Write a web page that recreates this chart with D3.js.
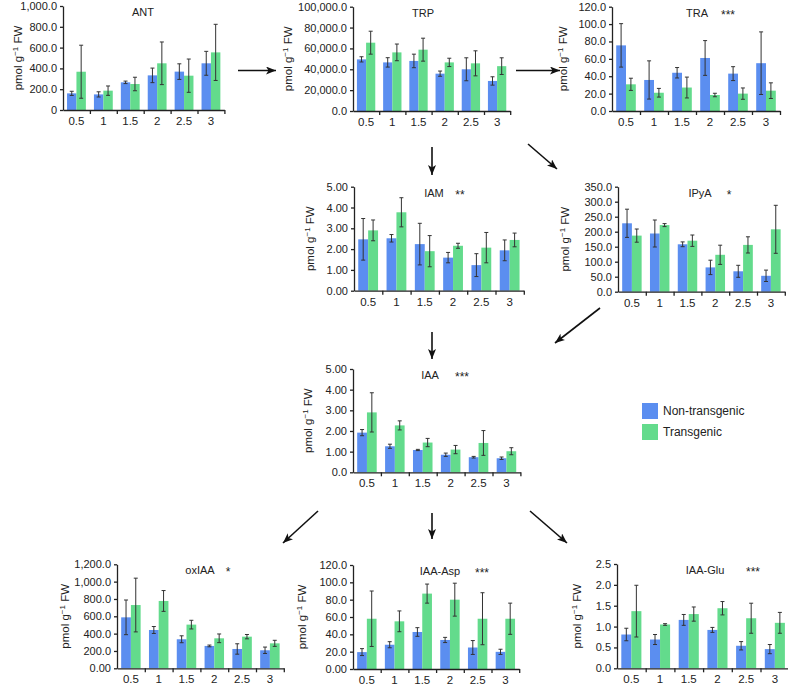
<!DOCTYPE html>
<html>
<head>
<meta charset="utf-8">
<script src="https://cdn.jsdelivr.net/npm/d3@7"></script>
<style>
	body { margin: 0; background: #fff; }
	text { font-family: "Liberation Sans", Arial, Helvetica, sans-serif; fill: #222; }
</style>
</head>
<body>
<div id="res"></div>
<script>
/*
Auxin metabolite panels, non-transgenic vs transgenic, drawn with D3
*/

/* x categories shared by all panels */
var cats = ["0.5", "1", "1.5", "2", "2.5", "3"];

/* ANT */
var antNT = [160, 150, 266, 333, 369, 449];
var antNTerr = [20, 25, 12, 70, 75, 115];
var antT = [368, 186, 250, 449, 330, 554];
var antTerr = [255, 45, 65, 205, 160, 270];
var antTicks = [0, 200, 400, 600, 800, 1000];
var antTickLabels = ["0", "200.0", "400.0", "600.0", "800.0", "1,000.0"];

/* TRP */
var trpNT = [49500, 46600, 48000, 35800, 40000, 28800];
var trpNTerr = [2500, 4500, 6500, 2500, 11000, 4000];
var trpT = [65500, 56200, 58800, 46600, 45700, 43000];
var trpTerr = [11000, 8000, 11000, 4000, 12000, 8000];
var trpTicks = [0, 20000, 40000, 60000, 80000, 100000];
var trpTickLabels = ["0.0", "20,000.0", "40,000.0", "60,000.0", "80,000.0", "100,000.0"];

/* TRA */
var traNT = [75.5, 35.7, 44, 61, 43, 55];
var traNTerr = [25, 22, 6, 20, 8, 36];
var traT = [30.7, 21, 27, 18.4, 20, 23.4];
var traTerr = [7, 5, 12, 2, 6.5, 9];
var traTicks = [0, 20, 40, 60, 80, 100, 120];
var traTickLabels = ["0.0", "20.0", "40.0", "60.0", "80.0", "100.0", "120.0"];

/* IAM */
var iamNT = [2.47, 2.52, 2.24, 1.59, 1.23, 1.94];
var iamNTerr = [1.0, 0.18, 1.0, 0.25, 0.55, 0.5];
var iamT = [2.9, 3.77, 1.9, 2.16, 2.07, 2.44];
var iamTerr = [0.5, 0.7, 0.75, 0.12, 0.73, 0.33];
var iamTicks = [0, 1, 2, 3, 4, 5];
var iamTickLabels = ["0.00", "1.00", "2.00", "3.00", "4.00", "5.00"];

/* IPyA */
var ipyaNT = [228, 194, 158, 81, 68, 53];
var ipyaNTerr = [47, 45, 8, 24, 20, 19];
var ipyaT = [187, 222, 170, 123, 156, 208];
var ipyaTerr = [22, 5, 19, 32, 27, 80];
var ipyaTicks = [0, 50, 100, 150, 200, 250, 300, 350];
var ipyaTickLabels = ["0.0", "50.0", "100.0", "150.0", "200.0", "250.0", "300.0", "350.0"];

/* IAA */
var iaaNT = [1.92, 1.26, 1.08, 0.85, 0.73, 0.68];
var iaaNTerr = [0.15, 0.1, 0.03, 0.08, 0.04, 0.06];
var iaaT = [2.9, 2.27, 1.44, 1.1, 1.42, 1.02];
var iaaTerr = [0.95, 0.22, 0.2, 0.2, 0.6, 0.17];
var iaaTicks = [0, 1, 2, 3, 4, 5];
var iaaTickLabels = ["0.0", "1.00", "2.00", "3.00", "4.00", "5.00"];

/* oxIAA */
var oxNT = [588, 442, 335, 258, 223, 208];
var oxNTerr = [200, 40, 40, 10, 60, 37];
var oxT = [730, 777, 504, 346, 365, 288];
var oxTerr = [310, 120, 50, 50, 25, 35];
var oxTicks = [0, 200, 400, 600, 800, 1000, 1200];
var oxTickLabels = ["0.00", "200.0", "400.0", "600.0", "800.0", "1,000.0", "1,200.0"];

/* IAA-Asp */
var aspNT = [19.5, 28, 42.7, 33.5, 24.8, 19.8];
var aspNTerr = [4, 3.5, 5, 3, 8, 3];
var aspT = [58, 55, 87, 80, 58, 58];
var aspTerr = [32, 12, 11, 19, 30, 18];
var aspTicks = [0, 20, 40, 60, 80, 100, 120];
var aspTickLabels = ["0.00", "20.0", "40.0", "60.0", "80.0", "100.0", "120.0"];

/* IAA-Glu */
var gluNT = [0.81, 0.69, 1.16, 0.92, 0.54, 0.46];
var gluNTerr = [0.15, 0.12, 0.13, 0.06, 0.1, 0.11];
var gluT = [1.37, 1.05, 1.3, 1.44, 1.2, 1.09];
var gluTerr = [0.62, 0.02, 0.17, 0.16, 0.36, 0.25];
var gluTicks = [0, 0.5, 1, 1.5, 2, 2.5];
var gluTickLabels = ["0.0", "0.5", "1.0", "1.5", "2.0", "2.5"];

var seriesNames = ["Non-transgenic", "Transgenic"];

/* colours */
var blue = "#5b8ef0";
var green = "#63db8c";

/* size of the graphic */
var width = 788;
var height = 686;

var svg = d3.select("#res")
	.append("svg")
		.attr("width", width)
		.attr("height", height);

/* panel layout: ax = y axis x, step = category width, y0/y1 = pixel of 0 and of top tick,
   lx = y label x, tx = title x, sx = stars x */
var panels = [
	{ title: "ANT", stars: "", nt: antNT, ntErr: antNTerr, t: antT, tErr: antTerr, ticks: antTicks, labels: antTickLabels,
	  ax: 63, step: 26.9, y0: 110, y1: 6, lx: 18, tx: 143, sx: 0 },
	{ title: "TRP", stars: "", nt: trpNT, ntErr: trpNTerr, t: trpT, tErr: trpTerr, ticks: trpTicks, labels: trpTickLabels,
	  ax: 353, step: 26.2, y0: 111, y1: 6.7, lx: 288, tx: 423, sx: 0 },
	{ title: "TRA", stars: "***", nt: traNT, ntErr: traNTerr, t: traT, tErr: traTerr, ticks: traTicks, labels: traTickLabels,
	  ax: 612, step: 28, y0: 111, y1: 6.7, lx: 563, tx: 697, sx: 728 },
	{ title: "IAM", stars: "**", nt: iamNT, ntErr: iamNTerr, t: iamT, tErr: iamTerr, ticks: iamTicks, labels: iamTickLabels,
	  ax: 354, step: 28.3, y0: 290.7, y1: 186.7, lx: 310, tx: 434, sx: 460 },
	{ title: "IPyA", stars: "*", nt: ipyaNT, ntErr: ipyaNTerr, t: ipyaT, tErr: ipyaTerr, ticks: ipyaTicks, labels: ipyaTickLabels,
	  ax: 618, step: 27.8, y0: 291.7, y1: 186.7, lx: 565, tx: 700, sx: 729 },
	{ title: "IAA", stars: "***", nt: iaaNT, ntErr: iaaNTerr, t: iaaT, tErr: iaaTerr, ticks: iaaTicks, labels: iaaTickLabels,
	  ax: 353, step: 27.9, y0: 472.3, y1: 369, lx: 308, tx: 430, sx: 462 },
	{ title: "oxIAA", stars: "*", nt: oxNT, ntErr: oxNTerr, t: oxT, tErr: oxTerr, ticks: oxTicks, labels: oxTickLabels,
	  ax: 117, step: 27.8, y0: 668.3, y1: 564.3, lx: 65, tx: 200, sx: 228 },
	{ title: "IAA-Asp", stars: "***", nt: aspNT, ntErr: aspNTerr, t: aspT, tErr: aspTerr, ticks: aspTicks, labels: aspTickLabels,
	  ax: 353, step: 27.7, y0: 669, y1: 565, lx: 302, tx: 440, sx: 482 },
	{ title: "IAA-Glu", stars: "***", nt: gluNT, ntErr: gluNTerr, t: gluT, tErr: gluTerr, ticks: gluTicks, labels: gluTickLabels,
	  ax: 617, step: 28.7, y0: 668.3, y1: 564, lx: 577, tx: 705, sx: 753 }
];

function drawPanel(p) {
	var g = svg.append("g");

	/* scales */
	var x = d3.scaleBand()
		.domain(cats)
		.range([p.ax, p.ax + p.step * cats.length])
		.paddingInner(0.3)
		.paddingOuter(0.15);
	var xs = d3.scaleBand()
		.domain(seriesNames)
		.range([0, x.bandwidth()]);
	var y = d3.scaleLinear()
		.domain([0, d3.max(p.ticks)])
		.range([p.y0, p.y1]);

	var series = [
		{ name: seriesNames[0], vals: p.nt, errs: p.ntErr, color: blue },
		{ name: seriesNames[1], vals: p.t, errs: p.tErr, color: green }
	];

	/* bars */
	series.forEach(function(s) {
		g.selectAll(null)
			.data(cats)
			.enter().append("rect")
				.attr("x", function(c) { return x(c) + xs(s.name); })
				.attr("y", function(c, i) { return y(s.vals[i]); })
				.attr("width", xs.bandwidth())
				.attr("height", function(c, i) { return y(0) - y(s.vals[i]); })
				.attr("fill", s.color);
	});

	/* error bars */
	series.forEach(function(s) {
		var cx = function(c) { return x(c) + xs(s.name) + xs.bandwidth() / 2; };
		var eb = g.selectAll(null)
			.data(cats)
			.enter().append("g")
				.attr("stroke", "#333")
				.attr("stroke-width", 1);
		eb.append("line")
			.attr("x1", cx)
			.attr("x2", cx)
			.attr("y1", function(c, i) { return y(Math.max(0, s.vals[i] - s.errs[i])); })
			.attr("y2", function(c, i) { return y(s.vals[i] + s.errs[i]); });
		[1, -1].forEach(function(sign) {
			eb.append("line")
				.attr("x1", function(c) { return cx(c) - 2; })
				.attr("x2", function(c) { return cx(c) + 2; })
				.attr("y1", function(c, i) { return y(Math.max(0, s.vals[i] + sign * s.errs[i])); })
				.attr("y2", function(c, i) { return y(Math.max(0, s.vals[i] + sign * s.errs[i])); });
		});
	});

	/* y axis */
	var ya = g.append("g")
		.attr("transform", "translate(" + p.ax + ",0)")
		.call(d3.axisLeft(y)
			.tickValues(p.ticks)
			.tickSize(3)
			.tickPadding(3)
			.tickSizeOuter(0)
			.tickFormat(function(d, i) { return p.labels[i]; }));
	ya.selectAll("text").style("font-size", "11px");

	/* x axis: ticks between categories, labels centred */
	var xEnd = p.ax + p.step * cats.length;
	var xl = d3.scaleLinear().domain([0, cats.length]).range([p.ax, xEnd]);
	g.append("g")
		.attr("transform", "translate(0," + p.y0 + ")")
		.call(d3.axisBottom(xl)
			.tickValues(d3.range(1, cats.length + 1))
			.tickSize(4)
			.tickSizeOuter(0)
			.tickFormat(""));
	g.append("g")
		.attr("transform", "translate(0," + p.y0 + ")")
		.call(d3.axisBottom(x).tickSize(0).tickPadding(7))
		.call(function(a) { a.select(".domain").remove(); })
		.selectAll("text").style("font-size", "11.5px");

	svg.selectAll(".domain, .tick line").attr("stroke", "#222").attr("stroke-width", 1.3);

	/* y label */
	var lab = g.append("text")
		.attr("transform", "translate(" + p.lx + "," + (p.y0 + p.y1) / 2 + ") rotate(-90)")
		.attr("text-anchor", "middle")
		.attr("dy", "0.35em")
		.style("font-size", "11.5px");
	lab.append("tspan").text("pmol g");
	lab.append("tspan").attr("dy", "-4").style("font-size", "8px").text("\u22121");
	lab.append("tspan").attr("dy", "4").text(" FW");

	/* title and stars */
	g.append("text")
		.attr("x", p.tx)
		.attr("y", p.y1 + 10)
		.attr("text-anchor", "middle")
		.style("font-size", "11px")
		.text(p.title);
	if (p.stars) {
		g.append("text")
			.attr("x", p.sx)
			.attr("y", p.y1 + 12)
			.attr("text-anchor", "middle")
			.style("font-size", "12px")
			.text(p.stars);
	}
}

panels.forEach(drawPanel);

/* arrows between panels */
svg.append("defs").append("marker")
	.attr("id", "head")
	.attr("viewBox", "0 0 10 8")
	.attr("refX", 10)
	.attr("refY", 4)
	.attr("markerWidth", 10)
	.attr("markerHeight", 8)
	.attr("markerUnits", "userSpaceOnUse")
	.attr("orient", "auto")
	.append("path")
		.attr("d", "M0,0 L10,4 L0,8 L2.5,4 Z")
		.attr("fill", "#111");

var arrows = [
	[238, 70.5, 276, 70.5],
	[516, 70.5, 560, 70.5],
	[432, 147, 432, 175],
	[528, 144, 557, 169],
	[600, 308, 555, 343],
	[432, 332, 432, 359],
	[318, 511, 283, 543],
	[432, 513, 432, 539],
	[530, 511, 567, 543]
];
svg.selectAll(".arrow")
	.data(arrows)
	.enter().append("line")
		.attr("class", "arrow")
		.attr("x1", function(d) { return d[0]; })
		.attr("y1", function(d) { return d[1]; })
		.attr("x2", function(d) { return d[2]; })
		.attr("y2", function(d) { return d[3]; })
		.attr("stroke", "#111")
		.attr("stroke-width", 1.6)
		.attr("marker-end", "url(#head)");

/* legend */
var legend = svg.append("g")
	.attr("transform", "translate(642,403)");
legend.selectAll("rect")
	.data(seriesNames)
	.enter().append("rect")
		.attr("x", 0)
		.attr("y", function(d, i) { return i * 21; })
		.attr("width", 16)
		.attr("height", 16)
		.attr("fill", function(d, i) { return i === 0 ? blue : green; });
legend.selectAll("text")
	.data(seriesNames)
	.enter().append("text")
		.attr("x", 21)
		.attr("y", function(d, i) { return i * 21 + 8; })
		.attr("dy", "0.35em")
		.style("font-size", "12px")
		.text(function(d) { return d; });
</script>
</body>
</html>
